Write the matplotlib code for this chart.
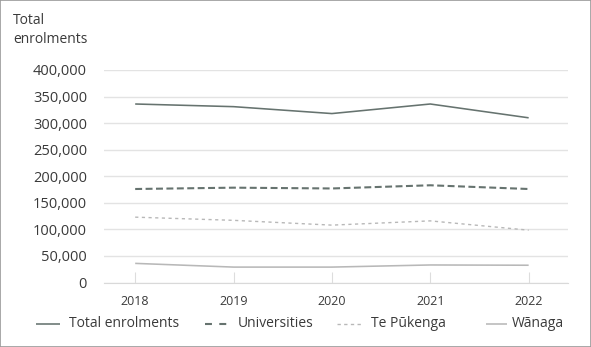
import matplotlib
matplotlib.use("Agg")
import matplotlib.pyplot as plt
from matplotlib.ticker import FuncFormatter
from matplotlib.patches import Rectangle
from matplotlib.lines import Line2D

years = ["2018", "2019", "2020", "2021", "2022"]
total = [336000, 331000, 318000, 336000, 310000]
universities = [176000, 178500, 177000, 183000, 176000]
te_pukenga = [123000, 117000, 108000, 116000, 98500]
wanaga = [36000, 29000, 29000, 33000, 32500]
series_labels = ["Total enrolments", "Universities", "Te Pūkenga", "Wānaga"]
yticks = [0, 50000, 100000, 150000, 200000, 250000, 300000, 350000, 400000]

plt.rcParams['font.family'] = ['Open Sans', 'DejaVu Sans']
plt.rcParams['lines.scale_dashes'] = False
txt = "#3a3a3a"

fig = plt.figure(figsize=(5.91, 3.47), dpi=100)
W, H = 591, 347
ax = fig.add_axes([103.7 / W, 1 - 282.5 / H, (568 - 103.7) / W, (282.5 - 70) / H])

styles = [
    dict(color="#66736f", lw=1.15, solid_capstyle="butt"),
    dict(color="#66736f", lw=1.5, dashes=(5.0, 2.5), dash_capstyle="butt"),
    dict(color="#b8b8b8", lw=1.0, dashes=(2.3, 2.5), dash_capstyle="butt"),
    dict(color="#b8b8b8", lw=1.15, solid_capstyle="butt"),
]
x = list(range(len(years)))
for vals, st in zip([total, universities, te_pukenga, wanaga], styles):
    ax.plot(x, vals, **st)

ax.set_xlim(-0.32, 4.40)
ax.set_ylim(0, 400000)
ax.set_yticks(yticks)
ax.yaxis.set_major_formatter(FuncFormatter(lambda v, p: f"{int(v):,}"))
ax.set_xticks(x)
ax.set_xticklabels(years)
ax.grid(axis="y", color="#e3e3e3", lw=1.0)
ax.set_axisbelow(True)
for s in ["top", "right", "left"]:
    ax.spines[s].set_visible(False)
ax.spines["bottom"].set_color("#d9d9d9")
ax.tick_params(axis="y", length=0, pad=12, labelsize=10.5, labelcolor=txt)
ax.tick_params(axis="x", direction="in", length=8, color="#dddddd", pad=9, labelsize=9, labelcolor=txt)

fig.text(13 / W, 1 - 30 / H, "Total\nenrolments", fontsize=10, color=txt, ha="left", va="center", linespacing=1.45)

# legend drawn manually at reference positions
ly = 1 - 323.5 / H
leg_x = [(36, 60, 69), (205, 228, 238), (337, 362, 371), (486, 507, 512)]
leg_styles = [
    dict(color="#66736f", lw=1.15, solid_capstyle="butt"),
    dict(color="#66736f", lw=1.5, dashes=(5.0, 5.3), dash_capstyle="butt"),
    dict(color="#b8b8b8", lw=1.0, dashes=(2.4, 2.4), dash_capstyle="butt"),
    dict(color="#b8b8b8", lw=1.15, solid_capstyle="butt"),
]
for (x0, x1, tx), st, lab in zip(leg_x, leg_styles, series_labels):
    fig.add_artist(Line2D([x0 / W, x1 / W], [ly, ly], transform=fig.transFigure, **st))
    fig.text(tx / W, ly, lab, fontsize=10, color=txt, ha="left", va="center")

fig.patches.append(Rectangle((0, 0), 1, 1, transform=fig.transFigure, fill=False,
                             edgecolor="#9a9a9a", lw=1.2))
fig.savefig("out.png", dpi=100)
